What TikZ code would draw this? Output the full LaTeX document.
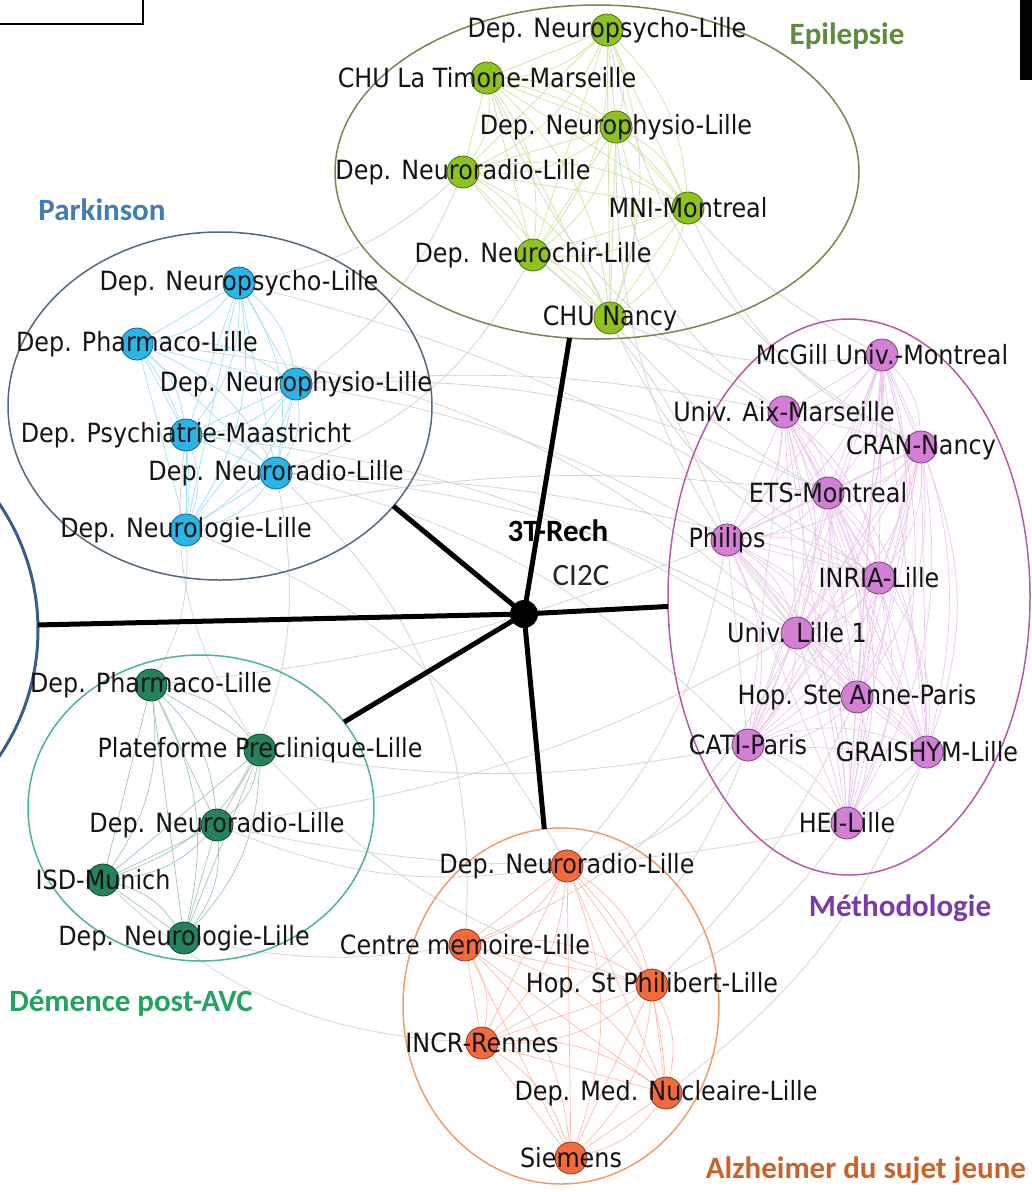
\documentclass[tikz,border=0pt]{standalone}
\usepackage{fontspec}
\setmainfont{DejaVu Sans}[FakeStretch=0.9]
\newfontfamily\grpfont{Carlito}
\usetikzlibrary{shapes.geometric}
\definecolor{epcol}{HTML}{8DC21F}
\definecolor{pkcol}{HTML}{29B5E8}
\definecolor{mecol}{HTML}{D47FD6}
\definecolor{decol}{HTML}{24835C}
\definecolor{alcol}{HTML}{F36B3B}
\definecolor{epell}{HTML}{6F8B4E}
\definecolor{pkell}{HTML}{51697F}
\definecolor{meell}{HTML}{B65BA5}
\definecolor{deell}{HTML}{45B88C}
\definecolor{alell}{HTML}{EC9F6B}
\definecolor{bigcol}{HTML}{3A5D8F}
\definecolor{eplab}{HTML}{5E8C3A}
\definecolor{pklab}{HTML}{3F7CB8}
\definecolor{melab}{HTML}{7A3BA8}
\definecolor{delab}{HTML}{22A460}
\definecolor{allab}{HTML}{C8642A}
\pgfdeclarelayer{bg}
\pgfsetlayers{bg,main}
\tikzset{
  inst/.style={circle,draw=#1!55!black,fill=#1,minimum size=32pt,inner sep=0pt,line width=0.8pt},
  lbl/.style={font=\fontsize{26.5}{29}\selectfont,text=black!92,inner sep=0pt},
  grp/.style={ellipse,draw=#1,line width=1.5pt,inner sep=0pt,outer sep=0pt},
  grplbl/.style={font=\grpfont\bfseries\fontsize{31}{34}\selectfont,text=#1,inner sep=0pt},
  hubline/.style={line width=5pt},
  intra/.style={draw=#1!45,line width=0.7pt},
  inter/.style={draw=black!17,line width=0.8pt}
}
\begin{document}
\begin{tikzpicture}[x=1pt,y=-1pt]
\useasboundingbox (0,0) rectangle (1032,1192);
\draw[line width=1.5pt] (-5,-5) rectangle (143,24);
\fill (1020,0) rectangle (1032,80);

\node[grp=epell,minimum width=524pt,minimum height=334pt] (epi) at (597,172) {};
\node[grp=pkell,minimum width=424pt,minimum height=348pt] (park) at (220,406) {};
\node[grp=meell,minimum width=362pt,minimum height=556pt] (meth) at (849,597) {};
\node[grp=deell,minimum width=346pt,minimum height=306pt] (dem) at (201,808) {};
\node[grp=alell,minimum width=316pt,minimum height=356pt] (alz) at (561,1006) {};
\node[circle,draw=bigcol,line width=3pt,minimum size=450pt,inner sep=0pt,outer sep=0pt] (other) at (-187,630) {};

\node[inst=epcol,label={[lbl]center:Dep. Neuropsycho-Lille}] (ep1) at (607,30) {};
\node[inst=epcol,label={[lbl]center:CHU La Timone-Marseille}] (ep2) at (487,78) {};
\node[inst=epcol,label={[lbl]center:Dep. Neurophysio-Lille}] (ep3) at (616,127) {};
\node[inst=epcol,label={[lbl]center:Dep. Neuroradio-Lille}] (ep4) at (463,172) {};
\node[inst=epcol,label={[lbl]center:MNI-Montreal}] (ep5) at (688,208) {};
\node[inst=epcol,label={[lbl]center:Dep. Neurochir-Lille}] (ep6) at (533,255) {};
\node[inst=epcol,label={[lbl]center:CHU Nancy}] (ep7) at (610,318) {};

\node[inst=pkcol,label={[lbl]center:Dep. Neuropsycho-Lille}] (pk1) at (239,283) {};
\node[inst=pkcol,label={[lbl]center:Dep. Pharmaco-Lille}] (pk2) at (137,344) {};
\node[inst=pkcol,label={[lbl]center:Dep. Neurophysio-Lille}] (pk3) at (296,384) {};
\node[inst=pkcol,label={[lbl]center:Dep. Psychiatrie-Maastricht}] (pk4) at (186,435) {};
\node[inst=pkcol,label={[lbl]center:Dep. Neuroradio-Lille}] (pk5) at (276,473) {};
\node[inst=pkcol,label={[lbl]center:Dep. Neurologie-Lille}] (pk6) at (186,530) {};

\node[inst=mecol,label={[lbl]center:McGill Univ.-Montreal}] (me1) at (882,355) {};
\node[inst=mecol,label={[lbl]center:Univ. Aix-Marseille}] (me2) at (784,412) {};
\node[inst=mecol,label={[lbl]center:CRAN-Nancy}] (me3) at (921,447) {};
\node[inst=mecol,label={[lbl]center:ETS-Montreal}] (me4) at (828,493) {};
\node[inst=mecol,label={[lbl]center:Philips}] (me5) at (727,540) {};
\node[inst=mecol,label={[lbl]center:INRIA-Lille}] (me6) at (879,578) {};
\node[inst=mecol,label={[lbl]center:Univ. Lille 1}] (me7) at (797,633) {};
\node[inst=mecol,label={[lbl]center:Hop. Ste Anne-Paris}] (me8) at (857,697) {};
\node[inst=mecol,label={[lbl]center:CATI-Paris}] (me9) at (748,745) {};
\node[inst=mecol,label={[lbl]center:GRAISHYM-Lille}] (me10) at (927,752) {};
\node[inst=mecol,label={[lbl]center:HEI-Lille}] (me11) at (847,823) {};

\node[inst=decol,label={[lbl]center:Dep. Pharmaco-Lille}] (de1) at (151,685) {};
\node[inst=decol,label={[lbl]center:Plateforme Preclinique-Lille}] (de2) at (260,750) {};
\node[inst=decol,label={[lbl]center:Dep. Neuroradio-Lille}] (de3) at (217,825) {};
\node[inst=decol,label={[lbl]center:ISD-Munich}] (de4) at (103,880) {};
\node[inst=decol,label={[lbl]center:Dep. Neurologie-Lille}] (de5) at (184,938) {};

\node[inst=alcol,label={[lbl]center:Dep. Neuroradio-Lille}] (al1) at (567,866) {};
\node[inst=alcol,label={[lbl]center:Centre memoire-Lille}] (al2) at (465,945) {};
\node[inst=alcol,label={[lbl]center:Hop. St Philibert-Lille}] (al3) at (652,985) {};
\node[inst=alcol,label={[lbl]center:INCR-Rennes}] (al4) at (482,1043) {};
\node[inst=alcol,label={[lbl]center:Dep. Med. Nucleaire-Lille}] (al5) at (666,1093) {};
\node[inst=alcol,label={[lbl]center:Siemens}] (al6) at (571,1158) {};

\begin{pgfonlayer}{bg}
\foreach \i in {1,...,6}{
  \pgfmathtruncatemacro\n{\i+1}
  \foreach \j in {\n,...,7}{
    \draw[intra=epcol] (ep\i) -- (ep\j);
    \draw[intra=epcol] (ep\i) to[bend left=20] (ep\j);
  }
}
\foreach \i in {1,...,5}{
  \pgfmathtruncatemacro\n{\i+1}
  \foreach \j in {\n,...,6}{
    \draw[intra=pkcol] (pk\i) -- (pk\j);
    \draw[intra=pkcol] (pk\i) to[bend left=20] (pk\j);
  }
}
\foreach \i in {1,...,10}{
  \pgfmathtruncatemacro\n{\i+1}
  \foreach \j in {\n,...,11}{
    \draw[intra=mecol] (me\i) -- (me\j);
    \draw[intra=mecol] (me\i) to[bend left=20] (me\j);
  }
}
\foreach \i in {1,...,4}{
  \pgfmathtruncatemacro\n{\i+1}
  \foreach \j in {\n,...,5}{
    \draw[intra=decol] (de\i) -- (de\j);
    \draw[intra=decol] (de\i) to[bend left=20] (de\j);
  }
}
\foreach \i in {1,...,5}{
  \pgfmathtruncatemacro\n{\i+1}
  \foreach \j in {\n,...,6}{
    \draw[intra=alcol] (al\i) -- (al\j);
    \draw[intra=alcol] (al\i) to[bend left=20] (al\j);
  }
}
\foreach \a/\b/\c in {pk3/me5/10,pk5/me7/12,pk5/me9/15,pk6/al1/20,pk6/me4/10,pk3/me2/8,pk1/ep4/-15,
  pk5/de3/20,pk4/de2/-20,pk6/de1/15,pk5/al2/25,pk1/me6/10,pk2/me7/18,pk4/me8/15,pk3/me4/14,pk5/me6/8,
  ep7/me1/-15,ep5/me1/-10,ep5/me3/-20,ep3/me2/-25,ep7/me4/-10,ep6/me5/15,ep2/me2/-20,ep1/me3/-25,
  ep4/pk3/15,ep6/pk5/20,ep7/me6/-20,ep3/me7/-20,
  de2/me9/-10,de3/me7/-10,de3/al1/-15,de5/al2/-10,de4/al4/-20,de2/al3/-15,de3/me11/-12,de1/me5/-8,
  al1/me9/-20,al3/me11/-15,al2/me7/-20,al5/me10/-15,al1/me5/-15,al3/me8/-10,al4/me9/-20}
  \draw[inter] (\a) to[bend left=\c] (\b);
\end{pgfonlayer}

\node[circle,fill=black,minimum width=28pt,minimum height=28pt,inner sep=0pt] (hub) at (524,614) {};
\draw[hubline] (hub.center) -- (epi);
\draw[hubline] (hub.center) -- (park.-30);
\draw[hubline] (hub.center) -- (meth);
\draw[hubline] (hub.center) -- (dem);
\draw[hubline] (hub.center) -- (alz);
\draw[hubline] (hub.center) -- (other);

\node[grplbl=eplab] (eplbl) at (847,36) {Epilepsie};
\node[grplbl=pklab] (pklbl) at (102,210) {Parkinson};
\node[grplbl=melab] (melbl) at (900,908) {Méthodologie};
\node[grplbl=delab] (delbl) at (131,1003) {Démence post-AVC};
\node[grplbl=allab] (allbl) at (866,1170) {Alzheimer du sujet jeune};
\node[grplbl=black] (rech) at (558,531) {3T-Rech};
\node[font=\grpfont\fontsize{31}{34}\selectfont,text=black!85,inner sep=0pt] (ci2c) at (581,576) {CI2C};
\end{tikzpicture}
\end{document}
